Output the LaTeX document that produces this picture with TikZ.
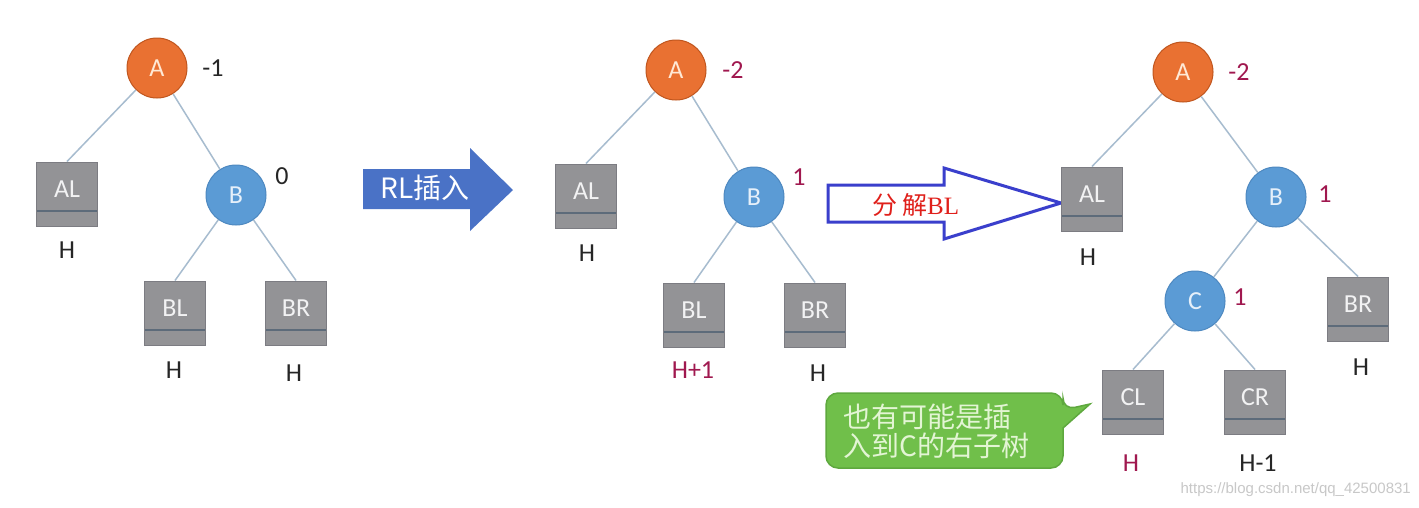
\documentclass[tikz,border=0pt]{standalone}
\usepackage{fontspec}
\setmainfont{Carlito}
\newfontfamily\cjk{Noto Sans CJK SC}
\newfontfamily\serifbl{Liberation Serif}
\newfontfamily\wmfont{Liberation Sans}
\definecolor{orfill}{HTML}{E97132}
\definecolor{ordraw}{HTML}{C0561E}
\definecolor{ortext}{HTML}{FFE9D6}
\definecolor{blfill}{HTML}{5B9BD5}
\definecolor{bldraw}{HTML}{4D88C0}
\definecolor{bltext}{HTML}{E6F0FA}
\definecolor{boxfill}{HTML}{939396}
\definecolor{boxdraw}{HTML}{7C7C82}
\definecolor{boxdiv}{HTML}{5D6B7A}
\definecolor{edgecol}{HTML}{A7BCCF}
\definecolor{crimson}{HTML}{A0184F}
\definecolor{arrowfill}{HTML}{4A72C6}
\definecolor{hollowcol}{HTML}{3A3FCC}
\definecolor{redtext}{HTML}{E0201B}
\definecolor{callfill}{HTML}{70BF4A}
\definecolor{calldraw}{HTML}{5EA83E}
\definecolor{calltext}{HTML}{E3F5D4}
\definecolor{wmcol}{HTML}{C8C8C8}
\tikzset{
  lettersize/.style={font=\fontsize{26}{30}\selectfont},
  anode/.style={circle, minimum size=60pt, inner sep=0pt, fill=orfill, draw=ordraw, line width=1pt, text=ortext, lettersize},
  bnode/.style={circle, minimum size=60pt, inner sep=0pt, fill=blfill, draw=bldraw, line width=1pt, text=bltext, lettersize},
  tbox/.style={rectangle, minimum width=61pt, minimum height=64pt, inner sep=0pt, fill=boxfill, draw=boxdraw, line width=1pt, text=white!88!boxfill, lettersize,
    path picture={\draw[boxdiv, line width=1.2pt] ([yshift=15pt]path picture bounding box.south west) -- ([yshift=15pt]path picture bounding box.south east);}},
  edge/.style={draw=edgecol, line width=1.5pt},
  hlab/.style={lettersize, text=black!85},
  hred/.style={lettersize, text=crimson},
  bal/.style={lettersize, text=black!85},
  balred/.style={lettersize, text=crimson},
}
\begin{document}
\begin{tikzpicture}[x=1pt, y=-1pt]
\useasboundingbox (0,0) rectangle (1419,507);
\fill[white] (0,0) rectangle (1419,507);

% ---------- Tree 1 ----------
\node[anode] (A1) at (157,68) {A};
\node[bal] (A1b) at (213,68) {-1};
\node[tbox] (AL1) at (67,194) {\raisebox{9pt}{AL}};
\node[hlab] (AL1h) at (67,250) {H};
\node[bnode] (B1) at (236,195) {B};
\node[bal] (B1b) at (282,176) {0};
\node[tbox] (BL1) at (175,313) {\raisebox{9pt}{BL}};
\node[hlab] (BL1h) at (174,370) {H};
\node[tbox] (BR1) at (296,313) {\raisebox{9pt}{BR}};
\node[hlab] (BR1h) at (294,373) {H};
\draw[edge] (A1) -- (AL1.north);
\draw[edge] (A1) -- (B1);
\draw[edge] (B1) -- (BL1.north);
\draw[edge] (B1) -- (BR1.north);

% ---------- RL arrow ----------
\fill[arrowfill] (363,169) -- (470,169) -- (470,148) -- (513,190) -- (470,231) -- (470,209) -- (363,209) -- cycle;
\node[text=white, font=\cjk\fontsize{28}{30}\selectfont] (rltext) at (425,188) {RL插入};

% ---------- Tree 2 ----------
\node[anode] (A2) at (676,70) {A};
\node[balred] (A2b) at (733,70) {-2};
\node[tbox] (AL2) at (586,196) {\raisebox{9pt}{AL}};
\node[hlab] (AL2h) at (587,253) {H};
\node[bnode] (B2) at (754,197) {B};
\node[balred] (B2b) at (799,177) {1};
\node[tbox] (BL2) at (694,315) {\raisebox{9pt}{BL}};
\node[hred] (BL2h) at (693,370) {H+1};
\node[tbox] (BR2) at (815,315) {\raisebox{9pt}{BR}};
\node[hlab] (BR2h) at (818,373) {H};
\draw[edge] (A2) -- (AL2.north);
\draw[edge] (A2) -- (B2);
\draw[edge] (B2) -- (BL2.north);
\draw[edge] (B2) -- (BR2.north);

% ---------- hollow arrow ----------
\draw[hollowcol, line width=3pt, line join=miter, fill=white] (828,185) -- (944,185) -- (944,168) -- (1061,203) -- (944,239) -- (944,222) -- (828,222) -- cycle;
\node[text=redtext, font=\fontsize{25}{28}\selectfont] (fjtext) at (916,205) {{\cjk 分\,解}{\serifbl BL}};

% ---------- Tree 3 ----------
\node[anode] (A3) at (1183,72) {A};
\node[balred] (A3b) at (1239,72) {-2};
\node[tbox] (AL3) at (1092,199) {\raisebox{9pt}{AL}};
\node[hlab] (AL3h) at (1088,257) {H};
\node[bnode] (B3) at (1276,197) {B};
\node[balred] (B3b) at (1325,194) {1};
\node[bnode] (C3) at (1195,301) {C};
\node[balred] (C3b) at (1240,297) {1};
\node[tbox] (BR3) at (1358,309) {\raisebox{9pt}{BR}};
\node[hlab] (BR3h) at (1361,367) {H};
\node[tbox] (CL3) at (1133,402) {\raisebox{9pt}{CL}};
\node[hred] (CL3h) at (1131,463) {H};
\node[tbox] (CR3) at (1255,402) {\raisebox{9pt}{CR}};
\node[hlab] (CR3h) at (1258,463) {H-1};
\draw[edge] (A3) -- (AL3.north);
\draw[edge] (A3) -- (B3);
\draw[edge] (B3) -- (C3);
\draw[edge] (B3) -- (BR3.north);
\draw[edge] (C3) -- (CL3.north);
\draw[edge] (C3) -- (CR3.north);

% ---------- callout ----------
\coordinate (tail) at (1090,404);
\filldraw[fill=callfill, draw=calldraw, line width=1.5pt, rounded corners=12pt]
  (826,393) -- (1063,393) -- (1063,410) [sharp corners] -- (tail) -- (1063,428) [rounded corners=12pt] -- (1063,468) -- (826,468) -- cycle;
\node[anchor=west, align=left, text=calltext, font=\cjk\fontsize{28}{29}\selectfont, inner sep=0pt] (calltxt) at (843,431) {也有可能是插\\入到C的右子树};

% ---------- watermark ----------
\node[anchor=east, text=wmcol, font=\wmfont\fontsize{15}{18}\selectfont, inner sep=0pt] (wm) at (1411,490) {https://blog.csdn.net/qq\_42500831};
\end{tikzpicture}
\end{document}
